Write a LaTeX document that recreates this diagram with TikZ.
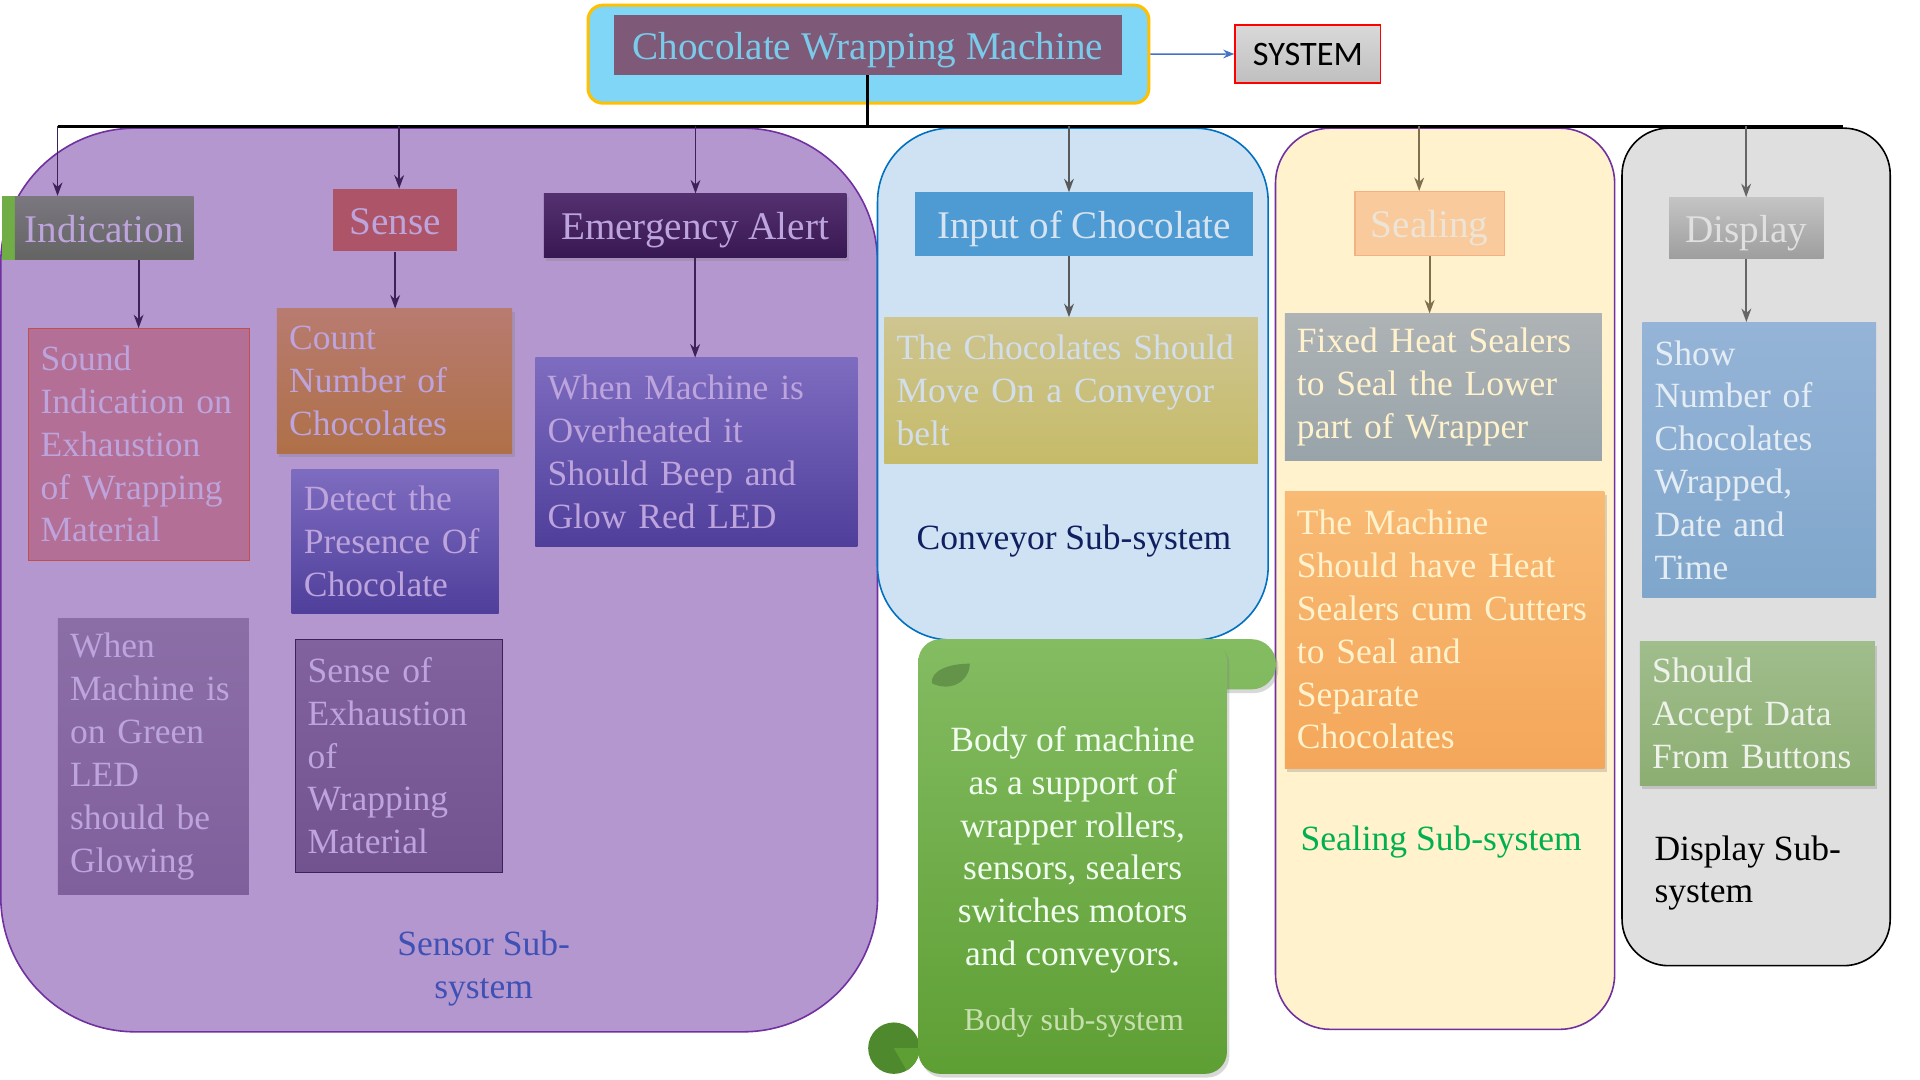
\documentclass[tikz,border=0pt]{standalone}
\usepackage{fontspec}
\setmainfont{Liberation Serif}
\newfontfamily\sysfont{Carlito}
\usepackage{xcolor}
\definecolor{topBack}    {HTML}{7FD6F7}
\definecolor{topLine}    {HTML}{FFC000}
\definecolor{titleBack}  {HTML}{7F5978}
\definecolor{titleText}  {HTML}{7ACBEA}
\definecolor{sysArrow}   {HTML}{4472C4}
\definecolor{sensorBack} {HTML}{B497CF}
\definecolor{sensorLine} {HTML}{7030A0}
\definecolor{lavText}    {HTML}{BDA4DC}
\definecolor{sensorInk}  {HTML}{3D2258}
\definecolor{greenBit}   {HTML}{70AD47}
\definecolor{indTop}     {HTML}{7A777F}
\definecolor{indBot}     {HTML}{646464}
\definecolor{soundBack}  {HTML}{B36F96}
\definecolor{soundLine}  {HTML}{C0504D}
\definecolor{ledTop}     {HTML}{8C6EA7}
\definecolor{ledBot}     {HTML}{80609C}
\definecolor{senseBack}  {HTML}{AE5468}
\definecolor{countTop}   {HTML}{B87B70}
\definecolor{countBot}   {HTML}{AF7048}
\definecolor{detectTop}  {HTML}{7E6CC0}
\definecolor{detectBot}  {HTML}{4F3F9B}
\definecolor{exhTop}     {HTML}{81629E}
\definecolor{exhBot}     {HTML}{735290}
\definecolor{alertTop}   {HTML}{553070}
\definecolor{alertBot}   {HTML}{381852}
\definecolor{sensorCap}  {HTML}{3F51B5}
\definecolor{convBack}   {HTML}{CFE2F3}
\definecolor{convLine}   {HTML}{0070C0}
\definecolor{inputBack}  {HTML}{4E9AD2}
\definecolor{inputText}  {HTML}{D6E3F0}
\definecolor{beltTop}    {HTML}{CEC591}
\definecolor{beltBot}    {HTML}{C6BB68}
\definecolor{beltText}   {HTML}{D2DEEA}
\definecolor{convCap}    {HTML}{0F1F60}
\definecolor{scrollTop}  {HTML}{84BC62}
\definecolor{scrollBot}  {HTML}{5E9F34}
\definecolor{curlGreen}  {HTML}{4E8A2D}
\definecolor{leafGreen}  {HTML}{639449}
\definecolor{bodyCap}    {HTML}{C8E0B0}
\definecolor{sealBack}   {HTML}{FFF2CC}
\definecolor{sealHead}   {HTML}{F9CB9C}
\definecolor{sealHeadLn} {HTML}{F4B183}
\definecolor{sealHeadTx} {HTML}{EDE4D6}
\definecolor{sealInk}    {HTML}{7F7050}
\definecolor{fixedTop}   {HTML}{AEB3B5}
\definecolor{fixedBot}   {HTML}{98A4AA}
\definecolor{cutTop}     {HTML}{F8BA74}
\definecolor{cutBot}     {HTML}{F4A75A}
\definecolor{sealCap}    {HTML}{00B050}
\definecolor{dispBack}   {HTML}{DFDFDF}
\definecolor{dispTop}    {HTML}{C4C4C4}
\definecolor{dispBot}    {HTML}{9E9E9E}
\definecolor{dispText}   {HTML}{E0E0E0}
\definecolor{showTop}    {HTML}{95B4D7}
\definecolor{showBot}    {HTML}{7FA6CB}
\definecolor{showText}   {HTML}{E4ECF4}
\definecolor{btnTop}     {HTML}{A0BD8C}
\definecolor{btnBot}     {HTML}{8CAE72}
\definecolor{btnText}    {HTML}{EEF2EA}
\usetikzlibrary{arrows.meta, shadows}
\newcommand\headfont{\fontsize{32}{38}\selectfont}
\newcommand\bodyfont{\fontsize{29}{35}\selectfont}
\tikzset{
    region/.style={rectangle, anchor=north west, line width=1.3pt, inner sep=0pt},
    headbox/.style={rectangle, anchor=north west, inner sep=0pt, font=\headfont,
                    text height=25pt, text depth=2pt},
    textbox/.style={rectangle, anchor=north west, inner xsep=10pt, inner ysep=0pt,
                    align=left, font=\bodyfont},
    caption/.style={align=center, inner sep=0pt, font=\bodyfont},
    link/.style={-{Stealth[length=11pt, width=8pt]}, line width=1.5pt},
    bus/.style={line width=2.6pt, black},
    soft/.style={drop shadow={opacity=0.3, shadow xshift=2pt, shadow yshift=-3pt}},
}
\begin{document}
\begin{tikzpicture}[x=1pt, y=-1pt]
    \useasboundingbox[fill=white] (0,0) rectangle (1568,882);
    % sub-system regions
    \node[region, fill=sensorBack, draw=sensorLine, minimum width=716, minimum height=738,
          rounded corners=110] (sensorreg) at (0,104) {};
    \node[region, fill=convBack, draw=convLine, minimum width=319, minimum height=418,
          rounded corners=60] (convreg) at (716,104) {};
    \node[region, fill=sealBack, draw=sensorLine, minimum width=277, minimum height=736,
          rounded corners=45] (sealreg) at (1041,104) {};
    \node[region, fill=dispBack, draw=black, minimum width=219, minimum height=684,
          rounded corners=38] (dispreg) at (1324,104) {};
    % top of the tree
    \node[region, fill=topBack, draw=topLine, line width=2.5pt, minimum width=458,
          minimum height=80, rounded corners=12] (top) at (479,3) {};
    \node[headbox, fill=titleBack, text=titleText, minimum width=415, minimum height=49]
          (title) at (501,12) {Chocolate Wrapping Machine};
    \node[headbox, top color=black!15, bottom color=black!25, draw=red, line width=1.2pt,
          minimum width=119, minimum height=47, text height=18pt, text depth=0pt,
          font=\sysfont\fontsize{28}{32}\selectfont] (sys) at (1008,20) {SYSTEM};
    \draw[-{Stealth[length=9pt, width=7pt]}, line width=1.2pt, sysArrow]
          (top.east) -- (sys.west);
    % bus
    \coordinate (b1) at (47,103);
    \coordinate (b2) at (326,103);
    \coordinate (b3) at (568,103);
    \coordinate (b4) at (873,103);
    \coordinate (b5) at (1159,103);
    \coordinate (b6) at (1426,103);
    \coordinate (bend) at (1505,103);
    \draw[bus] (title.south) -- (title.south |- b1);
    \draw[bus] (b1) -- (bend);

    % Sensor sub-system
    \fill[greenBit] (2,160) rectangle (16,212);
    \node[headbox, top color=indTop, bottom color=indBot, text=lavText,
          minimum width=146, minimum height=52] (ind) at (12,160) {Indication};
    \node[textbox, fill=soundBack, draw=soundLine, text=lavText, text width=160pt,
          minimum height=189] (sound) at (23,268)
          {Sound\\Indication on\\Exhaustion\\of Wrapping\\Material};
    \node[textbox, top color=ledTop, bottom color=ledBot, text=lavText, text width=136pt,
          minimum height=225] (led) at (47,505)
          {When\\Machine is\\on Green\\LED\\should be\\Glowing};
    \node[headbox, fill=senseBack, text=lavText, minimum width=101,
          minimum height=51] (sense) at (272,154) {Sense};
    \node[textbox, soft, top color=countTop, bottom color=countBot, text=lavText,
          text width=172pt, minimum height=118] (count) at (226,252)
          {Count\\Number of\\Chocolates};
    \node[textbox, top color=detectTop, bottom color=detectBot, text=lavText,
          text width=149pt, minimum height=118] (detect) at (238,383)
          {Detect the\\Presence Of\\Chocolate};
    \node[textbox, top color=exhTop, bottom color=exhBot, draw=sensorInk, text=lavText,
          text width=149pt, minimum height=190] (exhaust) at (241,522)
          {Sense of\\Exhaustion\\of\\Wrapping\\Material};
    \node[headbox, soft, top color=alertTop, bottom color=alertBot, text=lavText,
          minimum width=247, minimum height=52] (alert) at (444,158) {Emergency Alert};
    \node[textbox, top color=detectTop, bottom color=detectBot, text=lavText,
          text width=243pt, minimum height=154] (heat) at (437,292)
          {When Machine is\\Overheated it\\Should Beep and\\Glow Red LED};
    \node[caption, text=sensorCap] (sensorcap) at (395,791) {Sensor Sub-\\system};
    \draw[link, sensorInk] (b1) -- (b1 |- ind.north);
    \draw[link, sensorInk] (b2) -- (b2 |- sense.north);
    \draw[link, sensorInk] (b3) -- (b3 |- alert.north);
    \draw[link, sensorInk] (sound.north |- ind.south) -- (sound.north);
    \draw[link, sensorInk] (sense.south) -- (sense.south |- count.north);
    \draw[link, sensorInk] (alert.south) -- (alert.south |- heat.north);

    % Conveyor sub-system
    \node[headbox, fill=inputBack, text=inputText, minimum width=276,
          minimum height=52] (input) at (747,157) {Input of Chocolate};
    \node[textbox, top color=beltTop, bottom color=beltBot, text=beltText,
          text width=285pt, minimum height=119] (belt) at (722,259)
          {The Chocolates Should\\Move On a Conveyor\\belt};
    \node[caption, text=convCap] (convcap) at (877,442) {Conveyor Sub-system};
    \draw[link, black!65] (b4) -- (b4 |- input.north);
    \draw[link, black!65] (b4 |- input.south) -- (b4 |- belt.north);

    % Body sub-system (scroll)
    \path[rounded corners=20, top color=scrollTop, bottom color=scrollTop!92!scrollBot,
          drop shadow={opacity=0.3, shadow xshift=2pt, shadow yshift=-3pt}]
          (960,522) rectangle (1042,563);
    \fill[curlGreen] (730,856) circle[radius=21];
    \path[soft, rounded corners=18, top color=scrollTop, bottom color=scrollBot]
          (750,522) rectangle (1002,877);
    \fill[scrollBot] (730,856) -- (751,856) arc[start angle=0, end angle=60, radius=21]
          -- cycle;
    \fill[leafGreen] (761,558) .. controls (760,548) and (774,542) .. (792,542)
          .. controls (792,555) and (778,566) .. (761,558);
    \node[caption, text=white!94!green] (body) at (876,694)
          {Body of machine\\as a support of\\wrapper rollers,\\sensors, sealers\\switches motors\\and conveyors.};
    \node[caption, text=bodyCap, font=\fontsize{26}{30}\selectfont]
          (bodycap) at (877,835) {Body sub-system};

    % Sealing sub-system
    \node[headbox, fill=sealHead, draw=sealHeadLn, line width=1pt, text=sealHeadTx,
          minimum width=122, minimum height=52] (seal) at (1106,156) {Sealing};
    \node[textbox, top color=fixedTop, bottom color=fixedBot, text=sealBack,
          text width=239pt, minimum height=120] (fixed) at (1049,256)
          {Fixed Heat Sealers\\to Seal the Lower\\part of Wrapper};
    \node[textbox, soft, top color=cutTop, bottom color=cutBot, text=sealBack,
          text width=241pt, minimum height=226] (cutter) at (1049,401)
          {The Machine\\Should have Heat\\Sealers cum Cutters\\to Seal and\\Separate\\Chocolates};
    \node[caption, text=sealCap] (sealcap) at (1177,688) {Sealing Sub-system};
    \draw[link, sealInk] (b5) -- (b5 |- seal.north);
    \draw[link, sealInk] (seal.south) -- (seal.south |- fixed.north);

    % Display sub-system
    \node[headbox, top color=dispTop, bottom color=dispBot, text=dispText,
          minimum width=126, minimum height=50] (disp) at (1363,161) {Display};
    \node[textbox, top color=showTop, bottom color=showBot, text=showText,
          text width=171pt, minimum height=225] (show) at (1341,263)
          {Show\\Number of\\Chocolates\\Wrapped,\\Date and\\Time};
    \node[textbox, soft, top color=btnTop, bottom color=btnBot, text=btnText,
          text width=172pt, minimum height=117] (button) at (1339,524)
          {Should\\Accept Data\\From Buttons};
    \node[caption, align=left, anchor=west, text=black] (dispcap) at (1351,713)
          {Display Sub-\\system};
    \draw[link, black!60] (b6) -- (b6 |- disp.north);
    \draw[link, black!60] (disp.south) -- (disp.south |- show.north);
\end{tikzpicture}
\end{document}
